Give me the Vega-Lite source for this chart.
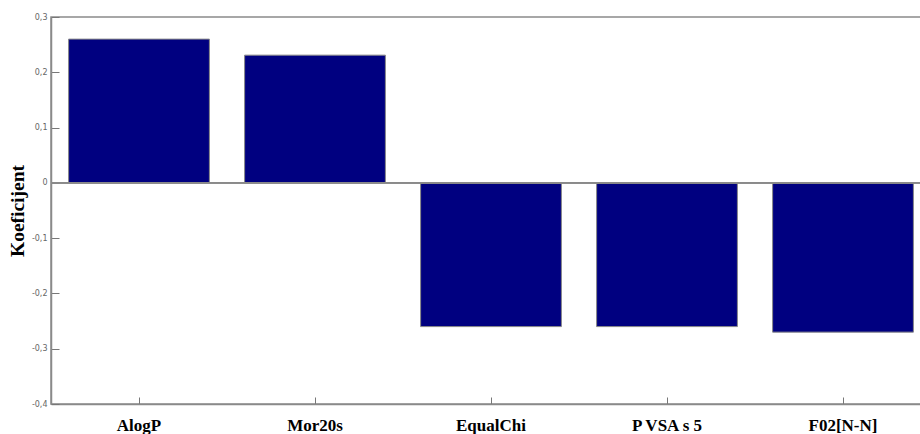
{
  "$schema": "https://vega.github.io/schema/vega-lite/v6.json",
  "width": 870,
  "height": 387,
  "autosize": {"type": "none"},
  "padding": {"left": 51, "top": 17, "right": 0, "bottom": 30},
  "background": "white",
  "config": {"view": {"stroke": "#8a8a8a", "strokeWidth": 1.5}},
  "data": {"values": [
    {"descriptor": "AlogP", "coef": 0.26},
    {"descriptor": "Mor20s", "coef": 0.231},
    {"descriptor": "EqualChi", "coef": -0.26},
    {"descriptor": "P VSA s 5", "coef": -0.26},
    {"descriptor": "F02[N-N]", "coef": -0.27}
  ]},
  "layer": [
    {
      "mark": {"type": "bar", "color": "#000080", "stroke": "#888888", "strokeWidth": 1},
      "encoding": {
        "x": {
          "field": "descriptor", "type": "nominal", "sort": null,
          "scale": {"range": [0, 880], "paddingInner": 0.2, "paddingOuter": 0.1},
          "axis": {
            "title": null, "labelAngle": 0,
            "labelFont": "Liberation Serif", "labelFontWeight": "bold", "labelFontSize": 17, "labelColor": "#000",
            "tickSize": -7, "tickColor": "#777", "tickWidth": 1,
            "labelPadding": 20,
            "domainColor": "#8a8a8a", "domainWidth": 1.5
          }
        },
        "y": {
          "field": "coef", "type": "quantitative",
          "scale": {"domain": [-0.4, 0.3], "nice": false},
          "axis": {
            "values": [-0.4, -0.3, -0.2, -0.1, 0, 0.1, 0.2, 0.3],
            "format": ".1~f",
            "grid": false,
            "labelExpr": "replace(replace(datum.label, '.', ','), '−', '-')",
            "labelFont": "DejaVu Sans", "labelFontSize": 8, "labelColor": "#666",
            "tickSize": -8, "tickColor": "#777", "tickWidth": 1,
            "labelPadding": 12,
            "domainColor": "#8a8a8a", "domainWidth": 1.5,
            "title": "Koeficijent",
            "titleFont": "Liberation Serif", "titleFontWeight": "bold", "titleFontSize": 19.5, "titleColor": "#000",
            "titlePadding": 4
          }
        }
      }
    },
    {
      "mark": {"type": "rule", "color": "#8a8a8a", "strokeWidth": 1.5},
      "encoding": {"y": {"datum": 0}}
    }
  ]
}
